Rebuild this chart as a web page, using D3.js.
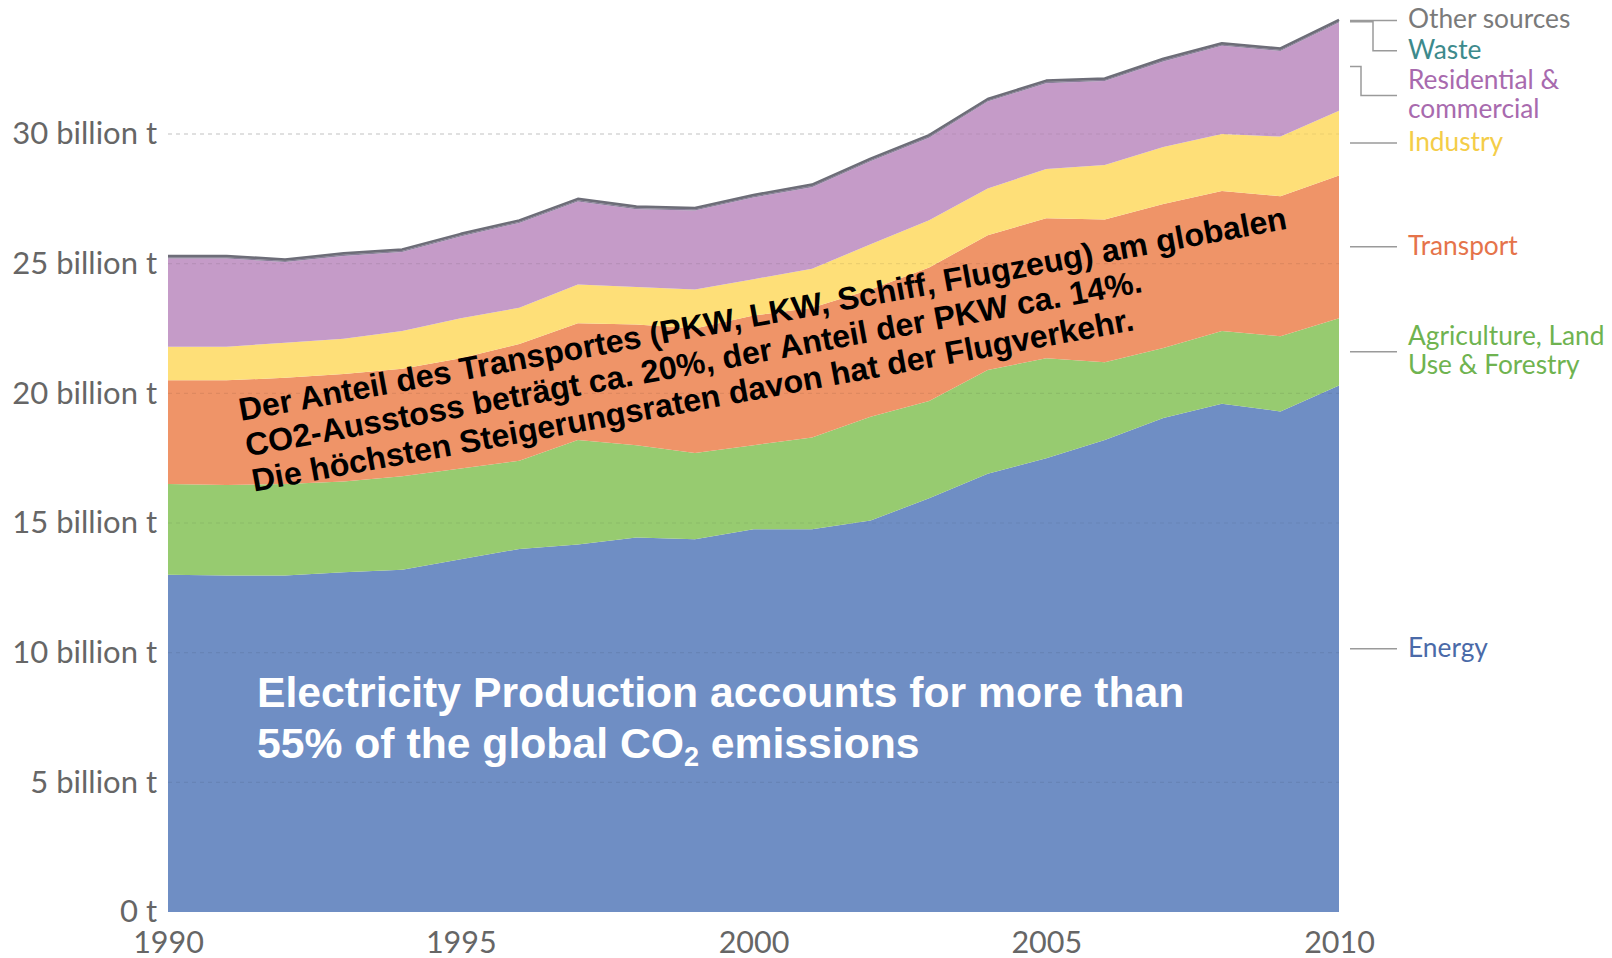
<!DOCTYPE html>
<html>
<head>
<meta charset="utf-8">
<script src="https://cdn.jsdelivr.net/npm/d3@7"></script>
<style>
  html, body { margin: 0; padding: 0; background: #fff; }
  svg { display: block; }
</style>
</head>
<body>
<div id="chart"></div>
<script>
// Global CO2 emissions by sector, billion t
const years = d3.range(1990, 2011);
const energy      = [13.0, 12.98, 12.98, 13.1, 13.2, 13.6, 14.0, 14.17, 14.44, 14.37, 14.76, 14.76, 15.1, 15.95, 16.9, 17.5, 18.2, 19.05, 19.6, 19.3, 20.3];
const agriculture = [3.5, 3.49, 3.52, 3.5, 3.6, 3.5, 3.4, 4.03, 3.56, 3.33, 3.24, 3.54, 4.0, 3.75, 4.0, 3.85, 3.0, 2.7, 2.8, 2.9, 2.6];
const transport   = [4.0, 4.03, 4.1, 4.15, 4.15, 4.25, 4.5, 4.5, 4.65, 4.8, 5.0, 5.0, 4.9, 5.15, 5.2, 5.4, 5.5, 5.55, 5.4, 5.4, 5.5];
const industry    = [1.3, 1.3, 1.35, 1.35, 1.45, 1.55, 1.4, 1.5, 1.45, 1.5, 1.4, 1.5, 1.75, 1.82, 1.8, 1.9, 2.1, 2.2, 2.2, 2.3, 2.5];
const residential = [3.4, 3.4, 3.11, 3.2, 3.05, 3.15, 3.27, 3.2, 3.0, 3.05, 3.15, 3.15, 3.2, 3.19, 3.35, 3.31, 3.24, 3.3, 3.4, 3.3, 3.4];
const waste       = [0.05, 0.05, 0.05, 0.05, 0.05, 0.05, 0.05, 0.05, 0.05, 0.05, 0.05, 0.05, 0.05, 0.05, 0.05, 0.05, 0.05, 0.05, 0.05, 0.05, 0.05];
const other       = [0.05, 0.05, 0.05, 0.05, 0.05, 0.05, 0.05, 0.05, 0.05, 0.05, 0.05, 0.05, 0.05, 0.05, 0.05, 0.05, 0.05, 0.05, 0.05, 0.05, 0.05];

const sectorKeys   = ['energy', 'agriculture', 'transport', 'industry', 'residential', 'waste', 'other'];
const sectorLabels = [['Energy'], ['Agriculture, Land', 'Use & Forestry'], ['Transport'], ['Industry'], ['Residential &', 'commercial'], ['Waste'], ['Other sources']];
const yTicks = [0, 5, 10, 15, 20, 25, 30];
const xTicks = [1990, 1995, 2000, 2005, 2010];

const germanNote = [
  'Der Anteil des Transportes (PKW, LKW, Schiff, Flugzeug) am globalen',
  'CO2-Ausstoss beträgt ca. 20%, der Anteil der PKW ca. 14%.',
  'Die höchsten Steigerungsraten davon hat der Flugverkehr.'
];

// colours
const fillColors = {
  energy: '#6f8ec4', agriculture: '#97cb70', transport: '#ef9468',
  industry: '#fedf78', residential: '#c59bc8', waste: '#8a7f9a', other: '#7a7a84'
};
const labelColors = {
  energy: '#4a6aa8', agriculture: '#6fb350', transport: '#e5734a',
  industry: '#f4cd48', residential: '#a86aae', waste: '#3d8a8c', other: '#7a7a7a'
};

const W = 1612, H = 958;
const margin = { left: 168, right: 273, top: 134, bottom: 46 };

const svg = d3.select('#chart').append('svg')
  .attr('width', W).attr('height', H)
  .style('background', '#fff');

const x = d3.scaleLinear().domain([1990, 2010]).range([margin.left, W - margin.right]);
const y = d3.scaleLinear().domain([0, 30]).range([H - margin.bottom, margin.top]);

// build table for the stack
const series = { energy, agriculture, transport, industry, residential, waste, other };
const rows = years.map((yr, i) => {
  const r = { year: yr };
  sectorKeys.forEach(k => { r[k] = series[k][i]; });
  return r;
});
const stacked = d3.stack().keys(sectorKeys)(rows);

// grid under the areas
const gridLines = yTicks.filter(d => d > 0);
svg.append('g').attr('class', 'grid')
  .selectAll('line').data(gridLines).enter().append('line')
  .attr('x1', x(1990)).attr('x2', x(2010))
  .attr('y1', d => y(d)).attr('y2', d => y(d))
  .attr('stroke', '#d4d4d4').attr('stroke-width', 1.2)
  .attr('stroke-dasharray', '4,4');

const area = d3.area()
  .x(d => x(d.data.year))
  .y0(d => y(d[0]))
  .y1(d => y(d[1]));

svg.append('g').attr('class', 'areas')
  .selectAll('path').data(stacked).enter().append('path')
  .attr('d', area)
  .attr('fill', d => fillColors[d.key]);

// faint grid on top of the areas
svg.append('g').attr('class', 'grid-over')
  .selectAll('line').data(gridLines).enter().append('line')
  .attr('x1', x(1990)).attr('x2', x(2010))
  .attr('y1', d => y(d)).attr('y2', d => y(d))
  .attr('stroke', '#000').attr('stroke-opacity', 0.07).attr('stroke-width', 1.2)
  .attr('stroke-dasharray', '4,4');

// grey line along the top of the stack
const topLayer = stacked[stacked.length - 1];
svg.append('path')
  .datum(topLayer)
  .attr('fill', 'none')
  .attr('stroke', '#6d6d78')
  .attr('stroke-width', 2.5)
  .attr('stroke-linejoin', 'round')
  .attr('d', d3.line().x(d => x(d.data.year)).y(d => y(d[1])));

// axes
const yAxis = d3.axisLeft(y)
  .tickValues(yTicks)
  .tickSize(0)
  .tickPadding(11)
  .tickFormat(d => d === 0 ? '0 t' : d + ' billion t');

svg.append('g')
  .attr('transform', `translate(${margin.left},0)`)
  .call(yAxis)
  .call(g => g.select('.domain').remove())
  .selectAll('text')
  .attr('font-family', 'Lato, sans-serif')
  .attr('font-size', 31)
  .attr('fill', '#666');

const xAxis = d3.axisBottom(x)
  .tickValues(xTicks)
  .tickSize(0)
  .tickPadding(19)
  .tickFormat(d3.format('d'));

svg.append('g')
  .attr('transform', `translate(0,${H - margin.bottom})`)
  .call(xAxis)
  .call(g => g.select('.domain').remove())
  .selectAll('text')
  .attr('font-family', 'Lato, sans-serif')
  .attr('font-size', 30.5)
  .attr('fill', '#666');

// legend on the right, tied to the middle of each layer in 2010
const last = rows.length - 1;
const legendShift = { waste: 29, residential: 29 };   // pushed down to avoid overlap
const legendBend  = { waste: 1373, residential: 1361 };
const lx0 = x(2010) + 11, lx1 = x(2010) + 58, tx = x(2010) + 69;

const legend = svg.append('g').attr('class', 'legend');
stacked.forEach((s, i) => {
  const k = s.key;
  const midY = y((s[last][0] + s[last][1]) / 2);
  const labY = midY + (legendShift[k] || 0);
  let pts;
  if (legendShift[k]) {
    const bx = legendBend[k];
    pts = [[lx0, midY], [bx, midY], [bx, labY], [lx1, labY]];
  } else {
    pts = [[lx0, midY], [lx1, midY]];
  }
  legend.append('path')
    .attr('d', d3.line()(pts))
    .attr('fill', 'none')
    .attr('stroke', '#9a9a9a')
    .attr('stroke-width', 1.5);

  const lines = sectorLabels[i];
  const t = legend.append('text')
    .attr('x', tx)
    .attr('font-family', 'Lato, sans-serif')
    .attr('font-size', 26.3)
    .attr('fill', labelColors[k]);
  lines.forEach((ln, j) => {
    t.append('tspan')
      .attr('x', tx)
      .attr('y', labY + (j - (lines.length - 1) / 2) * 29)
      .attr('dy', '0.3em')
      .text(ln);
  });
});

// German annotation across the transport band
const note = svg.append('text')
  .attr('transform', 'translate(241,421) rotate(-10.4)')
  .attr('font-family', '"Liberation Sans", Arial, sans-serif')
  .attr('font-weight', 'bold')
  .attr('font-size', 32.2)
  .attr('fill', '#000');
germanNote.forEach((ln, i) => {
  note.append('tspan').attr('x', 0).attr('y', i * 36).text(ln);
});

// white note inside the energy band
const elec = svg.append('g')
  .attr('font-family', '"Liberation Sans", Arial, sans-serif')
  .attr('font-weight', 'bold')
  .attr('font-size', 42.7)
  .attr('fill', '#fff');
elec.append('text').attr('x', 257).attr('y', 707)
  .text('Electricity Production accounts for more than');
const l2 = elec.append('text').attr('x', 257).attr('y', 758);
l2.append('tspan').text('55% of the global CO');
l2.append('tspan').attr('font-size', 27).attr('dy', 8).text('2');
l2.append('tspan').attr('dy', -8).text(' emissions');
</script>
</body>
</html>
